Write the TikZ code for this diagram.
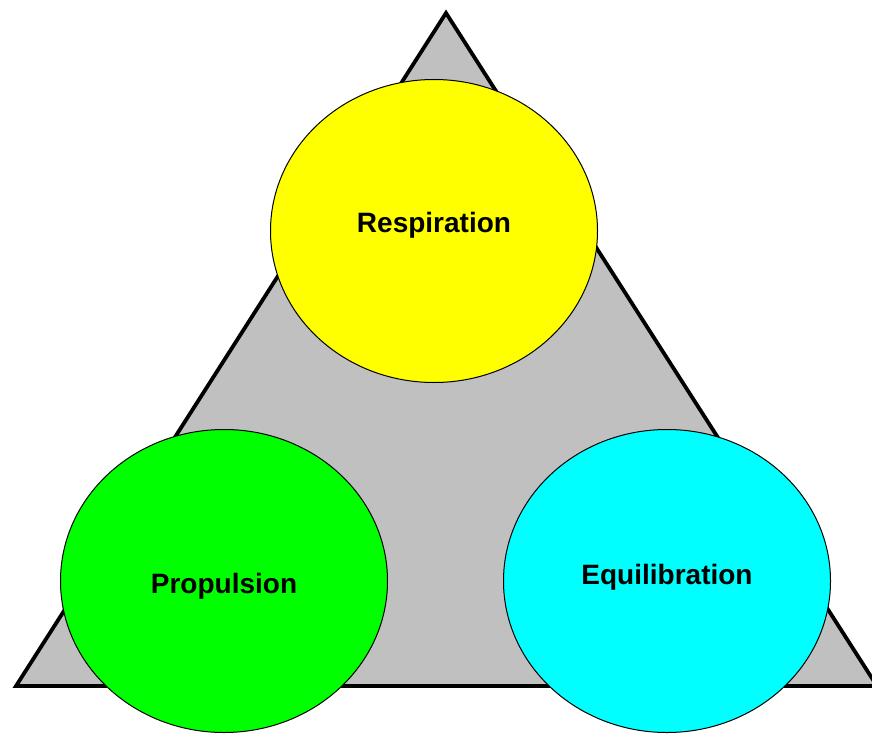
\documentclass[tikz,border=0pt]{standalone}
\usepackage{fontspec}
\setmainfont{Liberation Sans}
\usetikzlibrary{shapes.geometric}
\definecolor{triGray}{RGB}{192,192,192}
\definecolor{respYellow}{RGB}{255,255,0}
\definecolor{propGreen}{RGB}{0,255,0}
\definecolor{equiCyan}{RGB}{0,255,255}

\begin{document}
\begin{tikzpicture}[x=1pt,y=-1pt,
		bubble/.style={ellipse,draw=black,line width=1pt,inner sep=0pt,
			minimum width=327pt,minimum height=303pt},
		caption/.style={font=\fontsize{28}{32}\selectfont\bfseries,inner sep=0pt}]
		\useasboundingbox (0,0) rectangle (872,733);
		% the triangle behind
		\coordinate (top) at (446,13);
		\coordinate (left) at (16,686);
		\coordinate (right) at (877,686);
		\begin{scope}
		\clip (0,0) rectangle (872,733);
		\draw[fill=triGray,line width=3.8pt,line join=miter]
		(top) -- (left) -- (right) -- cycle;
		\end{scope}
		% the three circles
		\node[bubble,fill=respYellow] (resp) at (434,231) {};
		\node[bubble,fill=propGreen] (prop) at (224,581) {};
		\node[bubble,fill=equiCyan] (equi) at (667,581) {};
		\node[caption] (respText) at ([yshift=6pt]resp.center) {Respiration};
		\node[caption] (propText) at ([yshift=-5pt]prop.center) {Propulsion};
		\node[caption] (equiText) at ([yshift=4pt]equi.center) {Equilibration};
\end{tikzpicture}
\end{document}
